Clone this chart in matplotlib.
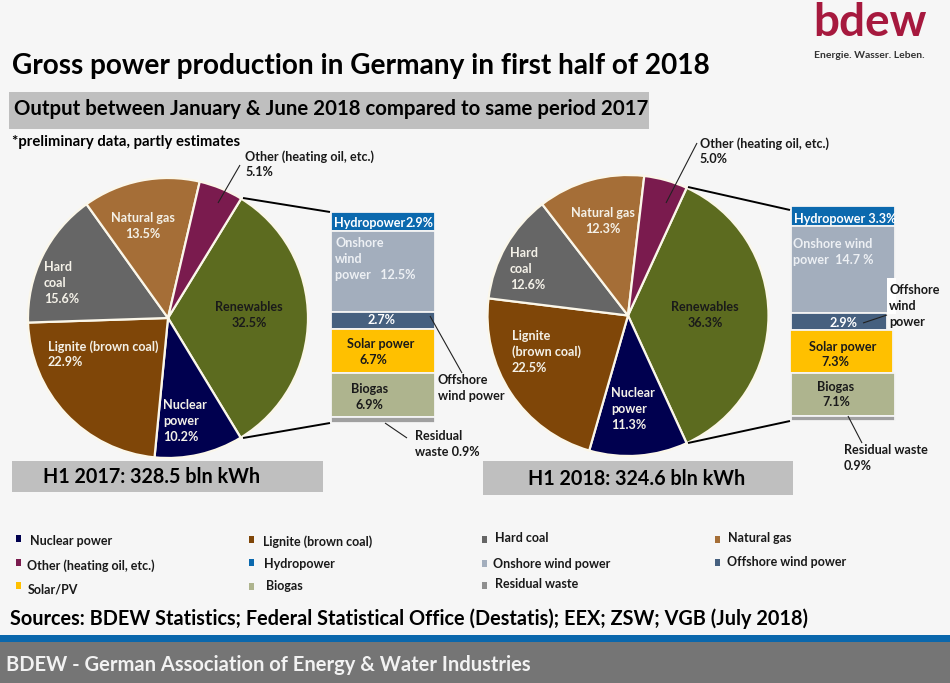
import matplotlib
matplotlib.use("Agg")
import matplotlib.pyplot as plt
from matplotlib.patches import Rectangle

# ---------- data ----------
pie_categories = ["Renewables", "Nuclear power", "Lignite (brown coal)", "Hard coal", "Natural gas", "Other (heating oil, etc.)"]
pie_2017 = [32.5, 10.2, 22.9, 15.6, 13.5, 5.1]
pie_2018 = [36.3, 11.3, 22.5, 12.6, 12.3, 5.0]
stack_categories = ["Hydropower", "Onshore wind power", "Offshore wind power", "Solar/PV", "Biogas", "Residual waste"]
stack_2017 = [2.9, 12.5, 2.7, 6.7, 6.9, 0.9]
stack_2018 = [3.3, 14.7, 2.9, 7.3, 7.1, 0.9]
legend_labels = ["Nuclear power", "Lignite (brown coal)", "Hard coal", "Natural gas",
                 "Other (heating oil, etc.)", "Hydropower", "Onshore wind power", "Offshore wind power",
                 "Solar/PV", "Biogas", "Residual waste"]

# ---------- style ----------
W, H = 950, 683
BG = "#f6f6f6"
FONT = "Lato"
pie_colors = ["#5c6b1f", "#00004f", "#7f4608", "#666666", "#a56e37", "#7a1b4e"]
stack_colors = ["#0b69ae", "#a3aebd", "#46607f", "#ffc000", "#aeb48e", "#a0a0a0"]
legend_colors = ["#00004f", "#7f4608", "#666666", "#a56e37", "#7a1b4e", "#0b69ae",
                 "#a3aebd", "#46607f", "#ffc000", "#aeb48e", "#8f8f8f"]
legend_marks = [(18, 538), (251, 539), (484, 539), (717, 539), (18, 562), (251, 562),
                (484, 563), (717, 562), (18, 585), (251, 586), (484, 585)]
legend_texts = [(30, 541), (263, 542), (495, 538), (728, 538), (27, 566), (264, 564),
                (493, 564), (727, 562), (28, 589), (266, 586), (495, 584)]

plt.rcParams["font.family"] = [FONT, "DejaVu Sans"]
plt.rcParams["font.weight"] = "bold"
fig = plt.figure(figsize=(W / 100, H / 100), dpi=100, facecolor=BG)


def px_axes(x0, y0, x1, y1, z):
    ax = fig.add_axes([x0 / W, 1 - y1 / H, (x1 - x0) / W, (y1 - y0) / H], zorder=z)
    ax.set_axis_off()
    ax.patch.set_alpha(0)
    return ax


bg = px_axes(0, 0, W, H, 0)
bg.set_xlim(0, W)
bg.set_ylim(H, 0)
top = px_axes(0, 0, W, H, 10)
top.set_xlim(0, W)
top.set_ylim(H, 0)

for x, y, w, h, c in [(9, 92, 640, 37, "#bfbfbf"), (12, 461, 311, 31, "#bfbfbf"), (483, 461, 310, 34, "#bfbfbf"),
                      (0, 635, W, 7, "#0a67ac"), (0, 642, W, 41, "#757575")]:
    bg.add_patch(Rectangle((x, y), w, h, fc=c, ec="none"))


def draw_pie(cx, cy, r, values):
    ax = px_axes(cx - r, cy - r, cx + r, cy + r, 2)
    wedges, _ = ax.pie(values, colors=pie_colors, startangle=values[0] * 3.6 / 2, counterclock=False,
                       radius=1, wedgeprops=dict(edgecolor="#fbf7ea", linewidth=1.6))
    for wd in wedges:
        wd.set_clip_on(False)
    ax.set_xlim(-1, 1)
    ax.set_ylim(-1, 1)


def draw_stack(x0, y0, x1, y1, values, lefts, widths):
    ax = px_axes(x0, y0, x1, y1, 3)
    ax.set_xlim(0, x1 - x0)
    ax.set_ylim(sum(values), 0)
    b = 0
    for v, c, l, w in zip(values, stack_colors, lefts, widths):
        ax.bar(l, v, width=w, bottom=b, align="edge", color=c, edgecolor="#f4f4f4", linewidth=1.3)
        b += v


draw_pie(168, 318, 140, pie_2017)
draw_pie(628, 315.5, 140.5, pie_2018)
draw_stack(331, 212, 435, 423, stack_2017, [0] * 6, [104] * 6)
draw_stack(790, 206, 896, 421, stack_2018, [1, 1, 1, 0, 1, 1], [104, 104, 96, 103, 104, 104])

# white patch behind the 2018 offshore label
top.add_patch(Rectangle((887, 278), 9, 36, fc="white", ec="none"))

# connector and leader lines
for (a, b, c, d, lw, col) in [
    (243, 198, 330, 212, 1.4, "black"), (243, 438, 330, 423, 1.4, "black"),
    (688, 187, 790, 210, 1.4, "black"), (688, 443, 790, 421, 1.4, "black"),
    (218, 203, 240, 165, 0.8, "#222222"), (430, 316, 462, 373, 0.8, "#222222"), (385, 423, 407, 438, 0.8, "#222222"),
    (666, 203, 697, 143, 0.8, "#222222"), (863, 323, 887, 315, 0.8, "#222222"), (848, 416, 862, 443, 0.8, "#222222"),
]:
    top.plot([a, c], [b, d], color=col, lw=lw, solid_capstyle="butt")


def t(x, y, s, size=9.1, color="#1a1a1a", ha="left", **kw):
    top.text(x, y, s, fontsize=size, color=color, ha=ha, va="center", linespacing=1.36, **kw)


LIGHT = "#f4f1e8"
# headings
t(12, 66, "Gross power production in Germany in first half of 2018", 20.2, "black")
t(14, 109, "Output between January & June 2018 compared to same period 2017", 14.7, "black")
t(12, 142, "*preliminary data, partly estimates", 10.7, "black")
t(43, 477, "H1 2017: 328.5 bln kWh", 14.2, "black")
t(528, 479, "H1 2018: 324.6 bln kWh", 14.2, "black")
t(10, 619, "Sources: BDEW Statistics; Federal Statistical Office (Destatis); EEX; ZSW; VGB (July 2018)", 14.3, "black")
t(6, 665, "BDEW - German Association of Energy & Water Industries", 14.5, "#f2f2f2")
t(813, 23, "bdew", 33, "#a6193e")
t(814, 56, "Energie. Wasser. Leben.", 7.5, "#333333")

# 2017 labels
t(245, 164, "Other (heating oil, etc.)\n5.1%")
t(143, 226, "Natural gas\n13.5%", color=LIGHT, ha="center", multialignment="center")
t(44, 283, "Hard\ncoal\n15.6%", color=LIGHT)
t(48, 354, "Lignite (brown coal)\n22.9%", color=LIGHT)
t(163, 421, "Nuclear\npower\n10.2%", color=LIGHT)
t(249, 315, "Renewables\n32.5%", ha="center", multialignment="center")
t(334, 223, "Hydropower", color="white")
t(406, 223, "2.9%", color="white")
t(335, 259, "Onshore\nwind\npower   12.5%", color="#edf0f4")
t(382, 320, "2.7%", color="white", ha="center")
t(381, 344, "Solar power", ha="center")
t(373, 360, "6.7%", ha="center")
t(369.5, 397, "Biogas\n6.9%", ha="center", multialignment="center")
t(438, 388, "Offshore\nwind power")
t(415, 444, "Residual\nwaste 0.9%")

# 2018 labels
t(700, 151, "Other (heating oil, etc.)\n5.0%")
t(603, 221, "Natural gas\n12.3%", color=LIGHT, ha="center", multialignment="center")
t(510, 269, "Hard\ncoal\n12.6%", color=LIGHT)
t(512, 352, "Lignite\n(brown coal)\n22.5%", color=LIGHT)
t(611, 409, "Nuclear\npower\n11.3%", color=LIGHT)
t(705, 315, "Renewables\n36.3%", ha="center", multialignment="center")
t(794, 219, "Hydropower 3.3%", color="white")
t(793, 252, "Onshore wind\npower  14.7 %", color="#edf0f4")
t(843, 323, "2.9%", color="white", ha="center")
t(843, 347, "Solar power", ha="center")
t(835, 362, "7.3%", ha="center")
t(836, 394.5, "Biogas\n7.1%", ha="center", multialignment="center")
t(889, 306, "Offshore\nwind\npower")
t(844, 458, "Residual waste\n0.9%")

# legend
for (mx, my), (tx, ty), lab, col in zip(legend_marks, legend_texts, legend_labels, legend_colors):
    top.add_patch(Rectangle((mx - 2.5, my - 3.5), 5, 7, fc=col, ec="none"))
    t(tx, ty, lab, 9.0)

fig.savefig("out.png", dpi=100, facecolor=BG)
